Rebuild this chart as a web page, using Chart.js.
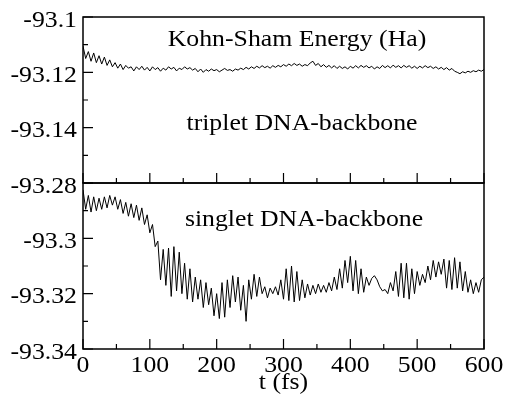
<!DOCTYPE html>
<html>
<head>
<meta charset="utf-8">
<script src="https://cdn.jsdelivr.net/npm/chart.js@4.4.0/dist/chart.umd.min.js"></script>
<style>
  body { margin: 0; background: #fff; font-family: "Liberation Serif", serif; }
  #wrap { position: relative; width: 508px; height: 400px; }
  #wrap canvas { position: absolute; left: 0; top: 0; }
  .preload { position: absolute; left: -999px; font: 23px "Liberation Serif"; }
</style>
</head>
<body>
<span class="preload">-93.1 Kohn-Sham</span>
<div id="wrap">
  <canvas id="topChart" width="508" height="400"></canvas>
  <canvas id="botChart" width="508" height="400"></canvas>
</div>
<script>
// time in fs
const time = [
  0,4,8,12,16,20,24,28,32,36,
  40,44,48,52,56,60,64,68,72,76,
  80,84,88,92,96,100,104,108,112,116,
  120,124,128,132,136,140,144,148,152,156,
  160,164,168,172,176,180,184,188,192,196,
  200,204,208,212,216,220,224,228,232,236,
  240,244,248,252,256,260,264,268,272,276,
  280,284,288,292,296,300,304,308,312,316,
  320,324,328,332,336,340,344,348,352,356,
  360,364,368,372,376,380,384,388,392,396,
  400,404,408,412,416,420,424,428,432,436,
  440,444,448,452,456,460,464,468,472,476,
  480,484,488,492,496,500,504,508,512,516,
  520,524,528,532,536,540,544,548,552,556,
  560,564,568,572,576,580,584,588,592,596,
  600
];

// Kohn-Sham energy (Ha), triplet
const triplet = [
  -93.1105,-93.1150,-93.1125,-93.1160,-93.1130,-93.1165,-93.1140,-93.1170,-93.1145,-93.1175,
  -93.1155,-93.1180,-93.1165,-93.1185,-93.1170,-93.1190,-93.1175,-93.1185,-93.1180,-93.1195,
  -93.1180,-93.1190,-93.1178,-93.1192,-93.1182,-93.1195,-93.1180,-93.1190,-93.1183,-93.1196,
  -93.1185,-93.1192,-93.1180,-93.1188,-93.1182,-93.1195,-93.1185,-93.1190,-93.1180,-93.1188,
  -93.1183,-93.1192,-93.1186,-93.1198,-93.1188,-93.1200,-93.1190,-93.1196,-93.1188,-93.1194,
  -93.1190,-93.1198,-93.1192,-93.1186,-93.1193,-93.1190,-93.1196,-93.1188,-93.1192,-93.1185,
  -93.1190,-93.1182,-93.1188,-93.1180,-93.1186,-93.1178,-93.1184,-93.1176,-93.1183,-93.1178,
  -93.1185,-93.1176,-93.1182,-93.1175,-93.1180,-93.1172,-93.1178,-93.1170,-93.1176,-93.1168,
  -93.1175,-93.1170,-93.1178,-93.1172,-93.1176,-93.1166,-93.1160,-93.1175,-93.1168,-93.1180,
  -93.1172,-93.1182,-93.1175,-93.1184,-93.1176,-93.1186,-93.1178,-93.1186,-93.1180,-93.1188,
  -93.1178,-93.1185,-93.1176,-93.1184,-93.1175,-93.1182,-93.1176,-93.1184,-93.1178,-93.1188,
  -93.1180,-93.1186,-93.1175,-93.1183,-93.1176,-93.1184,-93.1174,-93.1182,-93.1176,-93.1184,
  -93.1175,-93.1182,-93.1176,-93.1185,-93.1178,-93.1186,-93.1178,-93.1184,-93.1176,-93.1183,
  -93.1178,-93.1186,-93.1180,-93.1188,-93.1182,-93.1190,-93.1183,-93.1192,-93.1186,-93.1196,
  -93.1200,-93.1205,-93.1198,-93.1202,-93.1196,-93.1200,-93.1194,-93.1198,-93.1192,-93.1196,
  -93.1190
];

// Kohn-Sham energy (Ha), singlet
const singlet = [
  -93.2825,-93.2895,-93.2845,-93.2905,-93.2850,-93.2900,-93.2855,-93.2895,-93.2850,-93.2890,
  -93.2845,-93.2880,-93.2850,-93.2895,-93.2860,-93.2910,-93.2870,-93.2920,-93.2875,-93.2925,
  -93.2880,-93.2935,-93.2890,-93.2950,-93.2915,-93.2980,-93.2950,-93.3030,-93.3010,-93.3150,
  -93.3040,-93.3170,-93.3035,-93.3210,-93.3030,-93.3190,-93.3050,-93.3200,-93.3090,-93.3220,
  -93.3110,-93.3230,-93.3140,-93.3220,-93.3150,-93.3250,-93.3160,-93.3240,-93.3180,-93.3280,
  -93.3200,-93.3290,-93.3160,-93.3285,-93.3150,-93.3250,-93.3135,-93.3230,-93.3140,-93.3260,
  -93.3170,-93.3300,-93.3150,-93.3220,-93.3130,-93.3210,-93.3140,-93.3200,-93.3175,-93.3215,
  -93.3180,-93.3200,-93.3175,-93.3205,-93.3150,-93.3220,-93.3110,-93.3225,-93.3100,-93.3230,
  -93.3120,-93.3225,-93.3150,-93.3215,-93.3165,-93.3205,-93.3170,-93.3200,-93.3165,-93.3195,
  -93.3170,-93.3195,-93.3160,-93.3190,-93.3140,-93.3185,-93.3110,-93.3180,-93.3080,-93.3160,
  -93.3065,-93.3190,-93.3080,-93.3200,-93.3110,-93.3195,-93.3140,-93.3170,-93.3145,-93.3135,
  -93.3150,-93.3175,-93.3190,-93.3185,-93.3200,-93.3160,-93.3190,-93.3120,-93.3210,-93.3090,
  -93.3215,-93.3090,-93.3220,-93.3110,-93.3200,-93.3120,-93.3170,-93.3130,-93.3160,-93.3100,
  -93.3150,-93.3080,-93.3140,-93.3085,-93.3130,-93.3075,-93.3180,-93.3080,-93.3185,-93.3070,
  -93.3180,-93.3085,-93.3190,-93.3120,-93.3195,-93.3150,-93.3200,-93.3160,-93.3195,-93.3150,
  -93.3140
];

const xTicks = [0, 100, 200, 300, 400, 500, 600];
const xTickLabels = ['0', '100', '200', '300', '400', '500', '600'];
const xMinor = [50, 150, 250, 350, 450, 550];

const topYTicks = [-93.1, -93.12, -93.14, -93.16];
const topYLabels = ['-93.1', '-93.12', '-93.14', ''];
const topYMinor = [-93.11, -93.13, -93.15];

const botYTicks = [-93.28, -93.3, -93.32, -93.34];
const botYLabels = ['-93.28', '-93.3', '-93.32', '-93.34'];
const botYMinor = [-93.29, -93.31, -93.33];

const FONT = '23px "Liberation Serif"';
const SX = 1.12; // the reference text is a bit wide

function wideText(ctx, str, x, y, align) {
    ctx.save();
    ctx.translate(x, y);
    ctx.scale(SX, 1);
    ctx.textAlign = align;
    ctx.textBaseline = 'alphabetic';
    ctx.fillText(str, 0, 0);
    ctx.restore();
}

// frame, inward ticks and all texts
function framePlugin(cfg) {
    return {
        id: 'frame',
        afterDraw(chart) {
            const ctx = chart.ctx;
            const a = chart.chartArea;
            const x = chart.scales.x, y = chart.scales.y;
            ctx.save();
            ctx.strokeStyle = '#000';
            ctx.lineWidth = 1.5;
            ctx.strokeRect(a.left, a.top, a.right - a.left, a.bottom - a.top);

            ctx.lineWidth = 1.2;
            ctx.beginPath();
            xTicks.forEach(function (v) {
                let px = x.getPixelForValue(v);
                ctx.moveTo(px, a.bottom); ctx.lineTo(px, a.bottom - 10);
            });
            xMinor.forEach(function (v) {
                let px = x.getPixelForValue(v);
                ctx.moveTo(px, a.bottom); ctx.lineTo(px, a.bottom - 5);
            });
            cfg.yTicks.forEach(function (v) {
                let py = y.getPixelForValue(v);
                ctx.moveTo(a.left, py); ctx.lineTo(a.left + 10, py);
            });
            cfg.yMinor.forEach(function (v) {
                let py = y.getPixelForValue(v);
                ctx.moveTo(a.left, py); ctx.lineTo(a.left + 5, py);
            });
            ctx.stroke();

            ctx.fillStyle = '#000';
            ctx.font = FONT;
            cfg.yTicks.forEach(function (v, i) {
                if (cfg.yLabels[i]) wideText(ctx, cfg.yLabels[i], a.left - 6, y.getPixelForValue(v) + 9.5, 'right');
            });
            if (cfg.xLabels) {
                xTicks.forEach(function (v, i) {
                    wideText(ctx, xTickLabels[i], x.getPixelForValue(v), 372, 'center');
                });
                wideText(ctx, 't (fs)', (a.left + a.right) / 2, 389, 'center');
            }
            cfg.notes.forEach(function (n) {
                wideText(ctx, n.text, n.x, n.y, 'center');
            });
            ctx.restore();
        }
    };
}

function makeChart(id, values, yMin, yMax, padding, cfg) {
    let pts = time.map(function (t, i) { return {x: t, y: values[i]}; });
    return new Chart(document.getElementById(id), {
        type: 'line',
        data: {
            datasets: [{
                data: pts,
                borderColor: '#000',
                borderWidth: 1,
                pointRadius: 0,
                tension: 0,
                fill: false
            }]
        },
        options: {
            responsive: false,
            animation: false,
            devicePixelRatio: 1,
            layout: {padding: padding},
            plugins: {legend: {display: false}, tooltip: {enabled: false}},
            scales: {
                x: {type: 'linear', min: 0, max: 600, display: false},
                y: {type: 'linear', min: yMin, max: yMax, display: false}
            }
        },
        plugins: [framePlugin(cfg)]
    });
}

function drawAll() {
    makeChart('topChart', triplet, -93.16, -93.1,
        {left: 83, right: 24, top: 17, bottom: 217},
        {
            yTicks: topYTicks, yLabels: topYLabels, yMinor: topYMinor, xLabels: false,
            notes: [
                {text: 'Kohn-Sham Energy (Ha)', x: 297, y: 46},
                {text: 'triplet DNA-backbone', x: 302, y: 130}
            ]
        });

    makeChart('botChart', singlet, -93.34, -93.28,
        {left: 83, right: 24, top: 183, bottom: 51},
        {
            yTicks: botYTicks, yLabels: botYLabels, yMinor: botYMinor, xLabels: true,
            notes: [
                {text: 'singlet DNA-backbone', x: 304, y: 226}
            ]
        });
}

document.fonts.load(FONT).then(drawAll, drawAll);
</script>
</body>
</html>
